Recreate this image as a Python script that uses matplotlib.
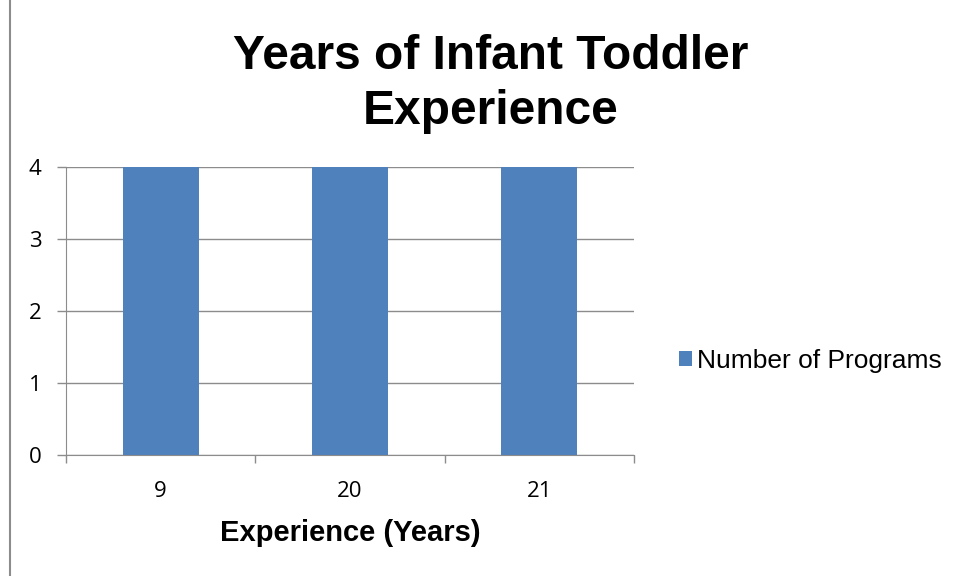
import matplotlib.pyplot as plt
from matplotlib.lines import Line2D

categories = ['9', '20', '21']
programs = [4, 4, 4]
y_ticks = [0, 1, 2, 3, 4]

W, H = 958, 576
fig = plt.figure(figsize=(W / 100, H / 100), dpi=100)

# left edge of the chart frame
fig.lines.append(Line2D([9.5 / W, 9.5 / W], [0, 1], transform=fig.transFigure,
                        color='#8c8c8c', linewidth=1.5))

ax = fig.add_axes([66 / W, 1 - 455 / H, (634 - 66) / W, (455 - 167) / H])

x = list(range(len(categories)))
bars = ax.bar(x, programs, width=0.4, color='#4F81BD', zorder=3,
              label='Number of Programs')

ax.set_xlim(-0.5, len(categories) - 0.5)
ax.set_ylim(0, 4)
ax.set_yticks(y_ticks)
ax.set_yticklabels([str(v) for v in y_ticks], fontsize=16, family='Open Sans')
ax.set_xticks(x)
ax.set_xticklabels(categories, fontsize=16, family='Open Sans')
ax.tick_params(axis='x', length=0, pad=18.5)
ax.set_xticks([i - 0.5 for i in range(len(categories) + 1)], minor=True)
ax.tick_params(axis='x', which='minor', length=6, color='#8c8c8c', width=1)
ax.tick_params(axis='y', length=6.5, color='#8c8c8c', width=1, pad=11)

ax.grid(axis='y', color='#8c8c8c', linewidth=1, zorder=0)
for s in ['top', 'right']:
    ax.spines[s].set_visible(False)
for s in ['left', 'bottom']:
    ax.spines[s].set_color('#8c8c8c')
    ax.spines[s].set_zorder(4)

ax.set_xlabel('Experience (Years)', fontsize=21, fontweight='bold',
              family='Liberation Sans', labelpad=12.5)

# title, two lines
fig.text(491 / W, 1 - 69 / H, 'Years of Infant Toddler', ha='center',
         va='baseline', fontsize=34.5, fontweight='bold', family='Liberation Sans')
fig.text(491 / W, 1 - 124 / H, 'Experience', ha='center',
         va='baseline', fontsize=34.5, fontweight='bold', family='Liberation Sans')

fig.legend(handles=[bars], loc='center left', bbox_to_anchor=(655 / W, 1 - 361 / H),
           frameon=False, prop={'family': 'Liberation Sans', 'size': 19},
           handlelength=0.5, handleheight=0.5, handletextpad=0.2)

fig.savefig('out.png', dpi=100)
